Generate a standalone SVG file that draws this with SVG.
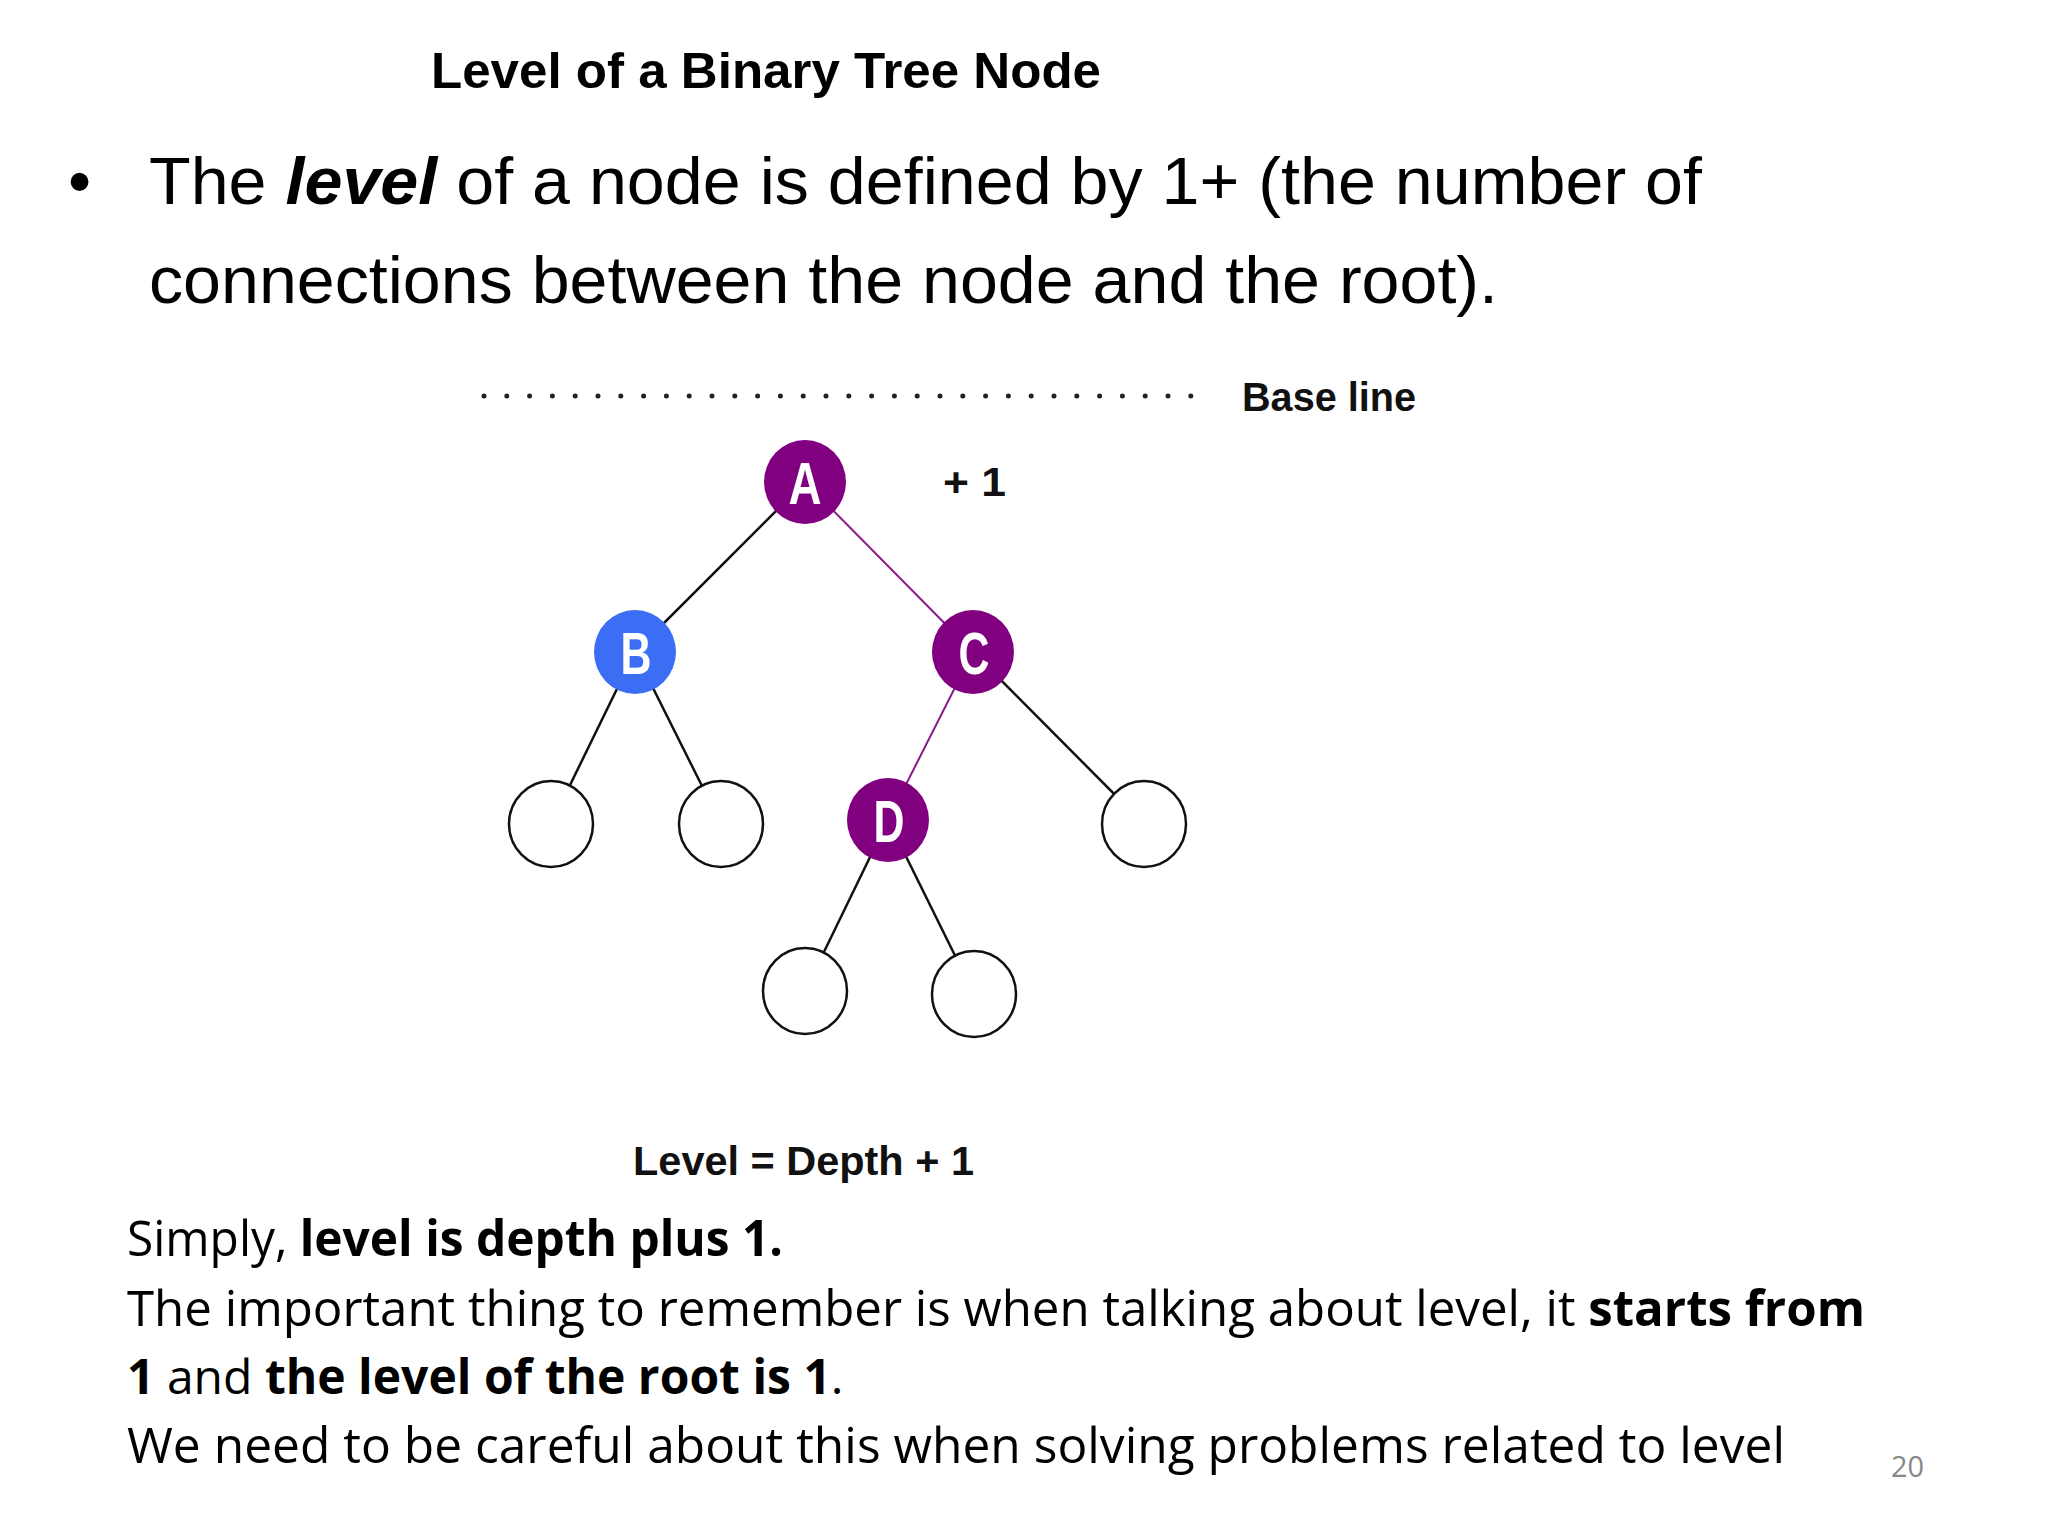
<svg xmlns="http://www.w3.org/2000/svg" width="2048" height="1536" viewBox="0 0 2048 1536">
<style>
.title{font-family:"Liberation Sans",Arial,sans-serif;font-weight:bold;font-size:50px;fill:#000}
.bullet{font-family:"Liberation Sans",Arial,sans-serif;font-size:66px;fill:#000}
.lbl{font-family:"Liberation Sans",Arial,sans-serif;font-weight:bold;font-size:40px;fill:#111}
.nlab{font-family:"Liberation Sans",Arial,sans-serif;font-weight:bold;font-size:60px;fill:#fff;text-anchor:middle}
.body{font-family:"Open Sans","Noto Sans",sans-serif;font-size:50px;fill:#000}
.b{font-weight:bold}
.edge{stroke:#111;stroke-width:2.5;fill:none}
.pedge{stroke:#8a1a8a;stroke-width:2;fill:none}
.leaf{fill:#fff;stroke:#111;stroke-width:2.5}
.purple{fill:#800080}
.blue{fill:#3b6ef5}
</style>
<rect width="2048" height="1536" fill="#fff"/>
<text class="title" x="431" y="88" textLength="670" lengthAdjust="spacingAndGlyphs">Level of a Binary Tree Node</text>
<text class="bullet" x="68" y="204">•</text>
<text class="bullet" x="149" y="204" textLength="1553" lengthAdjust="spacingAndGlyphs">The <tspan font-weight="bold" font-style="italic">level</tspan> of a node is defined by 1+ (the number of</text>
<text class="bullet" x="149" y="303" textLength="1349" lengthAdjust="spacingAndGlyphs">connections between the node and the root).</text>
<line x1="484" y1="396" x2="1191" y2="396" stroke="#222" stroke-width="5" stroke-linecap="round" stroke-dasharray="0 22.8"/>
<text class="lbl" x="1242" y="411" textLength="174" lengthAdjust="spacingAndGlyphs">Base line</text>
<text class="lbl" x="943" y="496" textLength="63" lengthAdjust="spacingAndGlyphs">+ 1</text>
<g id="connectors">
<line class="edge" x1="805" y1="482" x2="635" y2="652"/>
<line class="pedge" x1="805" y1="482" x2="973" y2="652"/>
<line class="edge" x1="635" y1="652" x2="551" y2="824"/>
<line class="edge" x1="635" y1="652" x2="721" y2="824"/>
<line class="pedge" x1="973" y1="652" x2="888" y2="820"/>
<line class="edge" x1="973" y1="652" x2="1144" y2="824"/>
<line class="edge" x1="888" y1="820" x2="805" y2="991"/>
<line class="edge" x1="888" y1="820" x2="974" y2="994"/>
</g>
<g id="node-A"><ellipse class="purple" cx="805" cy="482" rx="41" ry="42"/><text class="nlab" x="805" y="504" textLength="33" lengthAdjust="spacingAndGlyphs">A</text></g>
<g id="node-B"><ellipse class="blue" cx="635" cy="652" rx="41" ry="42"/><text class="nlab" x="636" y="674" textLength="31" lengthAdjust="spacingAndGlyphs">B</text></g>
<g id="node-C"><ellipse class="purple" cx="973" cy="652" rx="41" ry="42"/><text class="nlab" x="974" y="674" textLength="31" lengthAdjust="spacingAndGlyphs">C</text></g>
<g id="node-D"><ellipse class="purple" cx="888" cy="820" rx="41" ry="42"/><text class="nlab" x="889" y="842" textLength="31" lengthAdjust="spacingAndGlyphs">D</text></g>
<g id="leaf-1"><ellipse class="leaf" cx="551" cy="824" rx="42" ry="43"/></g>
<g id="leaf-2"><ellipse class="leaf" cx="721" cy="824" rx="42" ry="43"/></g>
<g id="leaf-3"><ellipse class="leaf" cx="1144" cy="824" rx="42" ry="43"/></g>
<g id="leaf-4"><ellipse class="leaf" cx="805" cy="991" rx="42" ry="43"/></g>
<g id="leaf-5"><ellipse class="leaf" cx="974" cy="994" rx="42" ry="43"/></g>
<text class="lbl" x="633" y="1175" textLength="341" lengthAdjust="spacingAndGlyphs">Level = Depth + 1</text>
<text class="body" x="127" y="1256" textLength="656" lengthAdjust="spacingAndGlyphs">Simply, <tspan class="b">level is depth plus 1.</tspan></text>
<text class="body" x="127" y="1326" textLength="1738" lengthAdjust="spacingAndGlyphs">The important thing to remember is when talking about level, it <tspan class="b">starts from</tspan></text>
<text class="body" x="127" y="1394" style="font-size:48px"><tspan class="b">1</tspan> and <tspan class="b">the level of the root is 1</tspan>.</text>
<text class="body" x="127" y="1463" textLength="1658" lengthAdjust="spacingAndGlyphs">We need to be careful about this when solving problems related to level</text>
<text x="1891" y="1477" font-family="'Open Sans',sans-serif" font-size="30" fill="#888" textLength="33" lengthAdjust="spacingAndGlyphs">20</text>
</svg>
